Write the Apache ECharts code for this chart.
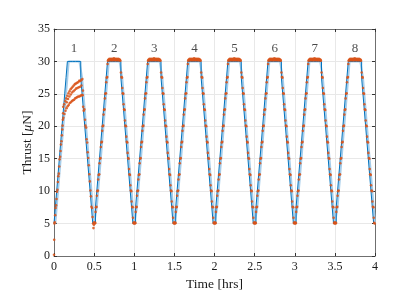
<!DOCTYPE html>
<html>
<head>
<meta charset="utf-8">
<script src="https://cdn.jsdelivr.net/npm/echarts@6/dist/echarts.min.js"></script>
<style>html,body{margin:0;padding:0;background:#fff}#c{width:415px;height:301px}</style>
</head>
<body>
<div id="c"></div>
<script>
// Commanded thrust level for each minute of one 30-minute cycle (µN)
var stepLevels = [5,7.5,10,12.5,15,17.5,20,22.5,25,27.5,
                  30,30,30,30,30,30,30,30,30,30,
                  27.5,25,22.5,20,17.5,15,12.5,10,7.5,5];
var cycleStarts = [0,0.5,1,1.5,2,2.5,3,3.5];   // hrs
var cycleLabels = ['1','2','3','4','5','6','7','8'];
var labelY = 32;
var endPoint = [4, 5];

// Measured thrust, typical cycle (cycles 2-8): [minute in cycle, µN]
var typicalMeasured = [
 [0.05,5.2],[0.5,5.0],[0.9,5.1],
 [1.05,6.8],[1.4,7.5],[1.8,7.6],
 [2.05,9.3],[2.4,10.0],[2.8,10.1],
 [3.05,11.8],[3.4,12.5],[3.8,12.6],
 [4.05,14.3],[4.4,15.0],[4.8,15.1],
 [5.05,16.8],[5.4,17.5],[5.8,17.6],
 [6.05,19.3],[6.4,20.0],[6.8,20.1],
 [7.05,21.8],[7.4,22.5],[7.8,22.6],
 [8.05,24.3],[8.4,25.0],[8.8,25.1],
 [9.05,26.8],[9.4,27.5],[9.8,27.6],
 [10.05,29.6],[10.3,30.1],[10.6,30.2],[10.9,30.3],[11.2,30.2],[11.5,30.4],[11.8,30.3],
 [12.1,30.2],[12.4,30.3],[12.7,30.4],[13.0,30.2],[13.3,30.3],[13.6,30.2],[13.9,30.4],
 [14.2,30.3],[14.5,30.2],[14.8,30.5],[15.1,30.3],[15.4,30.2],[15.7,30.4],[16.0,30.3],
 [16.3,30.2],[16.6,30.3],[16.9,30.4],[17.2,30.2],[17.5,30.3],[17.8,30.2],[18.1,30.4],
 [18.4,30.3],[18.7,30.2],[19.0,30.3],[19.3,30.2],[19.6,30.1],
 [20.05,28.3],[20.4,27.6],[20.8,27.5],
 [21.05,25.9],[21.4,25.1],[21.8,25.0],
 [22.05,23.4],[22.4,22.6],[22.8,22.5],
 [23.05,20.9],[23.4,20.1],[23.8,20.0],
 [24.05,18.4],[24.4,17.6],[24.8,17.5],
 [25.05,15.9],[25.4,15.1],[25.8,15.0],
 [26.05,13.4],[26.4,12.6],[26.8,12.5],
 [27.05,10.9],[27.4,10.1],[27.8,10.0],
 [28.05,8.4],[28.4,7.6],[28.8,7.5],
 [29.05,5.9],[29.4,5.1],[29.8,5.0]
];

// Measured thrust, cycle 1: [minute, µN]
var cycle1Rise = [
 [0.0,0.2],[0.15,2.5],[0.3,5.0],[0.6,5.2],[0.9,6.3],[1.2,7.4],[1.6,7.8],[1.9,8.8],
 [2.2,9.9],[2.6,10.2],[2.9,11.4],[3.2,12.3],[3.6,12.7],[3.9,13.8],[4.2,14.9],[4.6,15.3],
 [4.9,16.2],[5.2,17.2],[5.6,17.7],[5.9,18.6],[6.2,19.5],[6.4,20.1],[6.6,21.0],[6.8,22.0]
];
var cycle1Upper = [
 [6.9,23.0],[7.6,23.4],[8.4,23.9],[9.2,24.3],[10.0,24.7],[10.8,25.1],[11.6,25.4],[12.4,25.7],
 [13.2,25.9],[14.0,26.1],[14.8,26.3],[15.6,26.5],[16.4,26.6],[17.2,26.7],[18.0,26.8],[18.8,27.0],
 [19.6,27.0],[20.4,27.1],[21.2,27.3]
];
var cycle1Middle = [
 [9.5,23.7],[10.5,24.2],[11.5,24.6],[12.5,24.9],[13.5,25.2],[14.5,25.4],[15.5,25.6],[16.5,25.8],
 [17.5,25.9],[18.5,26.0],[19.5,26.1],[20.5,26.3]
];
var cycle1Lower = [
 [7.0,21.3],[7.8,21.9],[8.6,22.4],[9.4,22.8],[10.2,23.1],[11.0,23.3],[11.8,23.6],[12.6,23.7],
 [13.4,23.9],[14.2,24.0],[15.0,24.1],[15.8,24.3],[16.6,24.4],[17.4,24.5],[18.2,24.6],[19.0,24.6],
 [19.8,24.7],[20.6,24.8],[21.4,24.8]
];
var cycle1Fall = [
 [21.6,25.5],[21.8,23.0],[22.2,22.4],[22.7,22.6],[23.2,21.0],[23.5,20.1],[24.0,19.8],[24.4,18.0],
 [24.8,17.5],[25.2,16.0],[25.6,15.1],[26.0,14.0],[26.4,12.6],[26.8,11.5],[27.2,10.1],[27.6,9.2],
 [28.0,7.6],[28.4,7.4],[28.8,6.0],[29.2,5.0],[29.5,4.3],[29.8,4.8]
];

// ---- build series data ----
var stepData = [];
var cornerData = [];
cycleStarts.forEach(function (t0) {
  stepLevels.forEach(function (v, m) {
    stepData.push([t0 + m / 60, v]);
    cornerData.push([t0 + (m + 1) / 60, v]);
  });
});
stepData.push(endPoint);

function toHrs(arr, t0) { return arr.map(function (p) { return [t0 + p[0] / 60, p[1]]; }); }
var measured = [];
measured = measured.concat(toHrs(cycle1Rise, 0), toHrs(cycle1Upper, 0), toHrs(cycle1Middle, 0),
                           toHrs(cycle1Lower, 0), toHrs(cycle1Fall, 0));
cycleStarts.slice(1).forEach(function (t0) { measured = measured.concat(toHrs(typicalMeasured, t0)); });

var labelData = cycleStarts.map(function (t0, i) { return { value: [t0 + 0.25, labelY], name: cycleLabels[i] }; });

var FONT = 'Liberation Serif';
var axisLineStyle = { color: '#6f6f6f', width: 1 };
var tickStyle = { color: '#333', width: 1 };
function xa(bottom) {
  return {
    type: 'value', min: 0, max: 4, interval: 0.5, position: bottom ? 'bottom' : 'top',
    axisLine: { show: true, onZero: false, lineStyle: axisLineStyle },
    axisTick: { show: true, inside: true, length: 3, lineStyle: tickStyle },
    axisLabel: { show: bottom, margin: 5, fontFamily: FONT, fontSize: 12, color: '#1a1a1a' },
    splitLine: { show: bottom, lineStyle: { color: '#e8e8e8', width: 1 } },
    name: bottom ? 'Time [hrs]' : '', nameLocation: 'middle', nameGap: 21, nameMoveOverlap: false,
    nameTextStyle: { fontFamily: FONT, fontSize: 13.5, color: '#1a1a1a' }
  };
}
function ya(left) {
  return {
    type: 'value', min: 0, max: 35, interval: 5, position: left ? 'left' : 'right',
    axisLine: { show: true, onZero: false, lineStyle: axisLineStyle },
    axisTick: { show: true, inside: true, length: 3, lineStyle: tickStyle },
    axisLabel: { show: left, margin: 4, fontFamily: FONT, fontSize: 12, color: '#1a1a1a' },
    splitLine: { show: left, lineStyle: { color: '#e8e8e8', width: 1 } },
    name: left ? 'Thrust [{i|μ}N]' : '', nameLocation: 'middle', nameGap: 20, nameMoveOverlap: false,
    nameTextStyle: { fontFamily: FONT, fontSize: 13.5, color: '#1a1a1a',
      rich: { i: { fontFamily: FONT, fontSize: 13.5, fontStyle: 'italic', color: '#1a1a1a' } } }
  };
}

var chart = echarts.init(document.getElementById('c'), null, { renderer: 'canvas' });
chart.setOption({
  animation: false,
  backgroundColor: '#fff',
  grid: { left: 54, right: 40, top: 29, bottom: 45, containLabel: false },
  xAxis: [xa(true), xa(false)],
  yAxis: [ya(true), ya(false)],
  series: [
    { type: 'line', data: cornerData, showSymbol: false, symbol: 'none',
      lineStyle: { color: '#a6cdea', width: 2 }, z: 2 },
    { type: 'line', step: 'end', data: stepData, showSymbol: false, symbol: 'none',
      lineStyle: { color: '#0072BD', width: 1 }, z: 3 },
    { type: 'scatter', data: measured, symbol: 'circle', symbolSize: 2.6,
      itemStyle: { color: '#D95319', opacity: 0.85 }, z: 4 },
    { type: 'scatter', data: labelData, symbolSize: 0, z: 5,
      label: { show: true, position: 'inside', formatter: function (p) { return p.name; },
        fontFamily: FONT, fontSize: 13, color: '#1a1a1a' } }
  ]
});
</script>
</body>
</html>
